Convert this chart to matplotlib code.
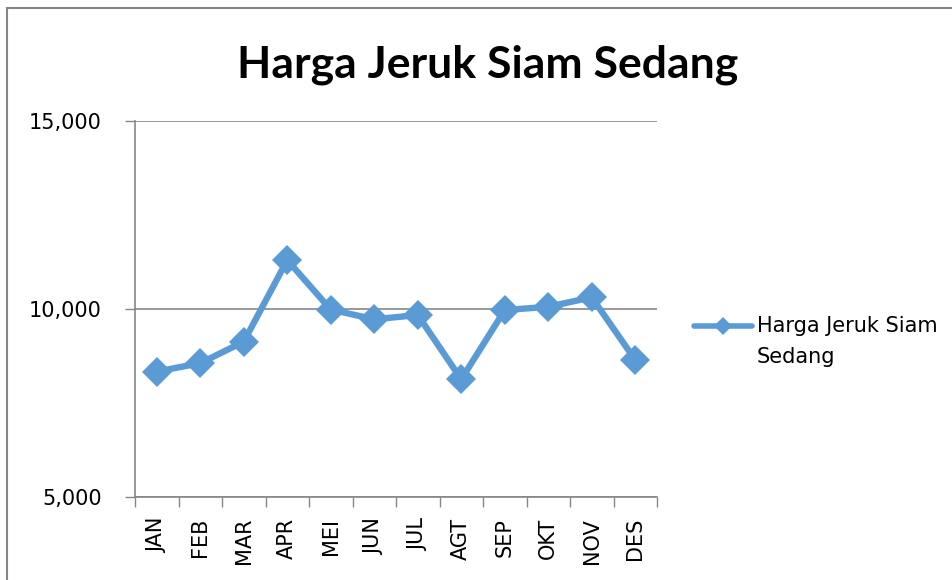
import matplotlib
matplotlib.use('Agg')
import matplotlib.pyplot as plt
from matplotlib.lines import Line2D
from matplotlib.patches import Rectangle
from matplotlib.ticker import FuncFormatter

MONTHS = ['JAN', 'FEB', 'MAR', 'APR', 'MEI', 'JUN', 'JUL', 'AGT', 'SEP', 'OKT', 'NOV', 'DES']
PRICES = [8335, 8560, 9130, 11300, 9985, 9725, 9840, 8130, 9970, 10060, 10310, 8645]
Y_TICKS = [5000, 10000, 15000]
SERIES_NAME = 'Harga Jeruk Siam Sedang'

BLUE = '#5B9BD5'
GRAY = '#868686'

plt.rcParams['font.family'] = 'DejaVu Sans'

fig = plt.figure(figsize=(9.52, 5.8), dpi=100)
ax = fig.add_axes([135 / 952, 1 - 497 / 580, 522 / 952, 376 / 580])

x = list(range(len(MONTHS)))
ax.plot(x, PRICES, color=BLUE, linewidth=4.6, marker='D', markersize=15,
        markeredgewidth=0, label=SERIES_NAME)

ax.set_xlim(-0.5, len(MONTHS) - 0.5)
ax.set_ylim(5000, 15000)
ax.set_yticks(Y_TICKS)
ax.yaxis.set_major_formatter(FuncFormatter(lambda v, p: f'{int(v):,}'))
ax.set_xticks(x)
ax.set_xticklabels(MONTHS, rotation=90)
ax.set_xticks([i - 0.5 for i in range(len(MONTHS) + 1)], minor=True)

ax.tick_params(axis='y', length=7, width=1, color=GRAY, pad=17, labelsize=15)
ax.tick_params(axis='x', which='major', length=0, pad=15, labelsize=15)
ax.tick_params(axis='x', which='minor', length=7, width=1, color=GRAY)

ax.grid(axis='y', color=GRAY, linewidth=1.2)
ax.set_axisbelow(True)
for s in ['top', 'right']:
    ax.spines[s].set_visible(False)
for s in ['left', 'bottom']:
    ax.spines[s].set_color(GRAY)
    ax.spines[s].set_linewidth(1.2)

fig.text(488 / 952, 1 - 78 / 580, SERIES_NAME, ha='center', va='baseline',
         fontsize=32, fontweight='bold', family='Lato')

# legend, drawn by hand so the key sits on the first text line
ly = 1 - 326 / 580
fig.add_artist(Line2D([694 / 952, 752 / 952], [ly, ly], color=BLUE, linewidth=4,
                      solid_capstyle='round', transform=fig.transFigure))
fig.add_artist(Line2D([723 / 952], [ly], color=BLUE, marker='D', markersize=9,
                      markeredgewidth=0, transform=fig.transFigure))
fig.text(757 / 952, ly, 'Harga Jeruk Siam', va='center', ha='left', fontsize=15)
fig.text(757 / 952, 1 - 357 / 580, 'Sedang', va='center', ha='left', fontsize=15)

# chart frame
fig.add_artist(Rectangle((7.3 / 952, -0.1), 1.2, 0.1 + (1 - 8.3 / 580), fill=False,
                         edgecolor=GRAY, linewidth=1.5, transform=fig.transFigure))

fig.savefig('out.png', dpi=100)
